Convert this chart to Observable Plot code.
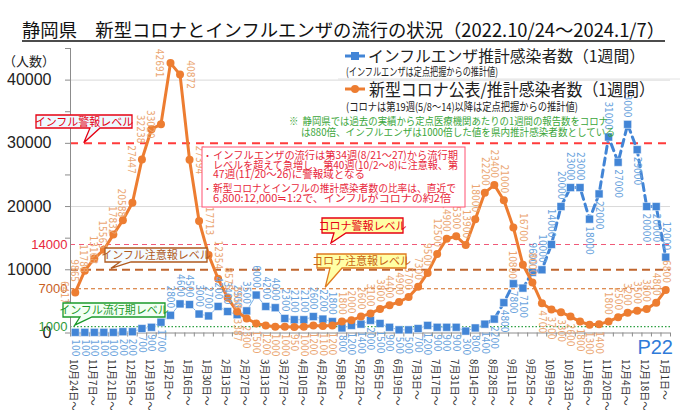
<!DOCTYPE html>
<html><head><meta charset="utf-8">
<script src="https://cdn.jsdelivr.net/npm/d3@7"></script>
<script src="https://cdn.jsdelivr.net/npm/@observablehq/plot@0.6"></script>
<style>body{margin:0;background:#fff} svg{display:block}</style>
</head><body><div id="chart"></div>
<script>
// ---- data ----
const xLabels = ["10月24日～","11月7日～","11月21日～","12月5日～","12月19日～","1月2日～","1月16日～","1月30日～","2月13日～","2月27日～","3月13日～","3月27日～","4月10日～","4月24日～","5月8日～","5月22日～","6月5日～","6月19日～","7月3日～","7月17日～","7月31日～","8月14日～","8月28日～","9月11日～","9月25日～","10月9日～","10月23日～","11月6日～","11月20日～","12月4日～","12月18日～","1月1日～"];
const fluValues = [100,100,100,100,100,200,200,700,900,1700,2800,4600,4500,3000,2700,4200,3400,2900,3500,6000,4200,4000,2300,2100,2100,2600,2200,1800,800,1200,1400,2000,1500,900,500,500,700,1200,900,900,900,300,800,1400,2200,4800,7800,7100,9600,10000,14000,20000,23000,23000,18000,22000,31000,27000,33000,29000,20000,20000,12000];
const covidValues = [6417,9865,11788,13168,15563,17832,20588,27447,32238,33020,42691,40872,27394,17713,12354,8575,5558,3387,2300,1500,1200,1000,1000,950,1000,1200,1100,1200,1800,2000,2600,3100,3800,4400,4900,5700,7300,9500,12500,14900,15300,13900,18000,22200,23400,21000,16700,10800,8000,4700,3700,3300,2600,1800,1300,1400,1800,2500,3200,3500,3800,4800,6800];
const yTickValues = [0,10000,20000,30000,40000];
const gridValues = [20000,40000];
const fluAlarm = 30000, fluWarning = 10000, fluEpidemic = 1000, covidAlarm = 14000, covidWarning = 7000;
const titleText = "静岡県　新型コロナとインフルエンザの流行の状況（2022.10/24～2024.1/7）";

// ---- build tables ----
const flu = fluValues.map((v, i) => ({week: i, value: v}));
const covid = covidValues.map((v, i) => ({week: i, value: v}));
const lastWeek = fluValues.length - 1;
const fluEarly = flu.filter(d => d.week <= 43);
const fluLate = flu.filter(d => d.week >= 43);

function covidPos(i){ if(i<=10) return "left"; if(i<=16) return "right"; if(i<=27) return "below"; if(i<=45) return "above"; if(i===46) return "right"; if(i===47) return "left"; if(i===48) return "above"; if(i<=55) return "below"; return "above"; }
function fluPos(i){ if(i<=9) return "below"; if(i<=27) return "above"; if(i<=47) return "below"; if(i<=53) return "above"; if(i===56||i===58||i===62) return "above"; return "below"; }
const placements = {
  left:  {textAnchor:"middle", dx:-11, dy:0},
  right: {textAnchor:"middle", dx:10, dy:0},
  above: {textAnchor:"end", dx:0, dy:-7},
  below: {textAnchor:"start", dx:0, dy:7}
};
const LBLFONT = "'Liberation Sans Narrow','DejaVu Sans Condensed',sans-serif";
function labelMarks(data, posFn, color){
  return Object.entries(placements).map(([k, p]) => Plot.text(data.filter(d => posFn(d.week) === k), {
    x: "week", y: "value", text: d => String(d.value), rotate: 90,
    textAnchor: p.textAnchor, dx: p.dx, dy: p.dy, fill: color, fontSize: 10, fontFamily: LBLFONT
  }));
}
const BLUE = "#4285D6", ORANGE = "#ED7D31";
const NUMFONT = "'Liberation Sans',Arial,sans-serif";

const chart = Plot.plot({
  width: 680, height: 410,
  marginLeft: 70, marginRight: 10, marginTop: 48, marginBottom: 77.5,
  x: {domain: [-0.5, lastWeek + 0.5]},
  y: {domain: [0, 45000]},
  style: {background: "white", fontFamily: "'Noto Sans CJK JP',sans-serif", overflow: "visible"},
  marks: [
    Plot.ruleY(gridValues, {stroke: "#d9d9d9", strokeWidth: 1}),
    Plot.ruleY([fluEpidemic], {stroke: "#2EA043", strokeWidth: 1.3, strokeDasharray: "1.5,2"}),
    Plot.ruleY([covidWarning], {stroke: "#D2691E", strokeWidth: 1.2, strokeDasharray: "4,3"}),
    Plot.ruleY([fluWarning], {stroke: "#C0652E", strokeWidth: 2, strokeDasharray: "8,5"}),
    Plot.ruleY([covidAlarm], {stroke: "#F05A78", strokeWidth: 1.2, strokeDasharray: "5,4"}),
    Plot.ruleY([fluAlarm], {stroke: "#FF3B3B", strokeWidth: 2, strokeDasharray: "8,6"}),
    Plot.ruleX([-0.5], {stroke: "#8c8c8c"}),
    Plot.ruleY([0], {stroke: "#8c8c8c"}),
    Plot.axisY(d3.range(0, 45001, 5000), {tickSize: 5, tickFormat: () => "", label: null, stroke: "#8c8c8c"}),
    Plot.axisY(yTickValues, {tickSize: 0, tickPadding: 19, fontSize: 16, fontFamily: NUMFONT, fill: "#222", tickFormat: d3.format("d"), label: null}),
    Plot.axisY([covidAlarm], {tickSize: 0, tickPadding: 3, fontSize: 13, fontFamily: NUMFONT, fill: "#E8283C", tickFormat: d3.format("d"), label: null}),
    Plot.axisY([covidWarning], {tickSize: 0, tickPadding: 3, fontSize: 13, fontFamily: NUMFONT, fill: "#C8601E", tickFormat: d3.format("d"), label: null}),
    Plot.axisY([fluEpidemic], {tickSize: 0, tickPadding: 3, fontSize: 13, fontFamily: NUMFONT, fill: "#2E9A3A", tickFormat: d3.format("d"), label: null}),
    Plot.axisX(d3.range(-0.5, lastWeek + 1, 1), {tickSize: 4, tickFormat: () => "", label: null, stroke: "#8c8c8c"}),
    Plot.axisX(xLabels.map((_, k) => k * 2), {tickSize: 0, tickPadding: 22, dy: 4, dx: -2, tickRotate: 90, fontSize: 10, fill: "#333", tickFormat: d => xLabels[d / 2], label: null}),
    Plot.line(fluEarly, {x: "week", y: "value", stroke: "#7FB0E6", strokeWidth: 1}),
    Plot.line(fluLate, {x: "week", y: "value", stroke: BLUE, strokeWidth: 3, strokeDasharray: "7,5"}),
    Plot.dot(flu, {x: "week", y: "value", symbol: "square", r: 4.5, fill: BLUE, stroke: "#ffffff", strokeWidth: 0.5}),
    Plot.line(covid, {x: "week", y: "value", stroke: ORANGE, strokeWidth: 3}),
    Plot.dot(covid, {x: "week", y: "value", r: 4, fill: ORANGE}),
    ...labelMarks(flu, fluPos, "#6AA3DD"),
    ...labelMarks(covid, covidPos, "#EBA672")
  ]
});
document.getElementById("chart").appendChild(chart);

// ---- annotations ----
const sx = chart.scale("x"), sy = chart.scale("y");
const X = v => sx.apply ? sx.apply(v) : sx.range[0] + (v - sx.domain[0]) / (sx.domain[1] - sx.domain[0]) * (sx.range[1] - sx.range[0]);
const Y = v => sy.apply ? sy.apply(v) : sy.range[0] + (v - sy.domain[0]) / (sy.domain[1] - sy.domain[0]) * (sy.range[1] - sy.range[0]);
const JP = "'Noto Sans CJK JP',sans-serif";
const svg = d3.select(chart);
const g = svg.append("g").attr("font-family", JP).attr("text-anchor", "start");

// title
g.append("text").attr("x", 22).attr("y", 37).attr("font-size", 18).attr("fill", "#111")
  .attr("textLength", 643).attr("lengthAdjust", "spacingAndGlyphs").text(titleText);
g.append("line").attr("x1", 22).attr("x2", 665).attr("y1", 41).attr("y2", 41).attr("stroke", "#111").attr("stroke-width", 1.3);

// y unit
g.append("text").attr("x", 3).attr("y", 66).attr("font-size", 13).attr("fill", "#222").text("（人数）");

// legend
g.append("line").attr("x1", 338).attr("x2", 680).attr("y1", 79).attr("y2", 79).attr("stroke", "#e2e2e2");
g.append("line").attr("x1", 345).attr("x2", 365).attr("y1", 56).attr("y2", 56).attr("stroke", BLUE).attr("stroke-width", 3);
g.append("rect").attr("x", 351).attr("y", 52).attr("width", 8).attr("height", 8).attr("fill", BLUE);
g.append("text").attr("x", 368).attr("y", 62).attr("font-size", 16).attr("fill", "#222").attr("textLength", 277).attr("lengthAdjust", "spacingAndGlyphs").text("インフルエンザ推計感染者数（1週間）");
g.append("text").attr("x", 346).attr("y", 75.5).attr("font-size", 11).attr("fill", "#222").attr("textLength", 152).attr("lengthAdjust", "spacingAndGlyphs").text("(インフルエンザは定点把握からの推計値)");
g.append("line").attr("x1", 345).attr("x2", 365).attr("y1", 89).attr("y2", 89).attr("stroke", ORANGE).attr("stroke-width", 3);
g.append("circle").attr("cx", 355).attr("cy", 89).attr("r", 4).attr("fill", ORANGE);
g.append("text").attr("x", 369).attr("y", 96).attr("font-size", 17).attr("fill", "#222").attr("textLength", 286).attr("lengthAdjust", "spacingAndGlyphs").text("新型コロナ公表/推計感染者数（1週間）");
g.append("text").attr("x", 346).attr("y", 110.5).attr("font-size", 11).attr("fill", "#222").attr("textLength", 232).attr("lengthAdjust", "spacingAndGlyphs").text("(コロナは第19週(5/8～14)以降は定点把握からの推計値)");

// green note
g.append("text").attr("x", 289).attr("y", 125).attr("font-size", 9.8).attr("fill", "#3AA63A").attr("textLength", 319).attr("lengthAdjust", "spacingAndGlyphs").text("※  静岡県では過去の実績から定点医療機関あたりの1週間の報告数をコロナ");
g.append("text").attr("x", 301).attr("y", 136).attr("font-size", 9.8).attr("fill", "#3AA63A").attr("textLength", 314).attr("lengthAdjust", "spacingAndGlyphs").text("は880倍、インフルエンザは1000倍した値を県内推計感染者数としている");

// red info box
g.append("rect").attr("x", 202).attr("y", 147).attr("width", 263).attr("height", 60).attr("fill", "#fff").attr("stroke", "#FF5070").attr("stroke-width", 1);
const boxLines = [
  {b: true, t: "インフルエンザの流行は第34週(8/21～27)から流行期", y: 159, w: 245},
  {b: false, t: "レベルを超えて急増し、第40週(10/2～8)に注意報、第", y: 168.5, w: 245},
  {b: false, t: "47週(11/20～26)に警報域となる", y: 178, w: 0},
  {b: true, t: "新型コロナとインフルの推計感染者数の比率は、直近で", y: 192, w: 243},
  {b: false, t: "6,800:12,000≒1:2で、インフルがコロナの約2倍", y: 201.5, w: 238}
];
boxLines.forEach(l => {
  if (l.b) g.append("text").attr("x", 203).attr("y", l.y).attr("font-size", 9).attr("fill", "#E8283C").text("・");
  const t = g.append("text").attr("x", 213).attr("y", l.y).attr("font-size", 10.5).attr("fill", "#E8283C").text(l.t);
  if (l.w) t.attr("textLength", l.w).attr("lengthAdjust", "spacingAndGlyphs");
});

// callouts
function callout(x0, y0, w, h, b1, b2, tipX, tipY, stroke, fill, color, label){
  const y1 = y0 + h;
  g.append("path").attr("d", `M${x0},${y0}H${x0 + w}V${y1}H${b2}L${tipX},${tipY}L${b1},${y1}H${x0}Z`)
    .attr("fill", fill).attr("stroke", stroke).attr("stroke-width", 1.3);
  g.append("text").attr("x", x0 + w / 2).attr("y", y0 + h / 2 + 4).attr("text-anchor", "middle")
    .attr("font-size", 11).attr("fill", color).text(label);
}
callout(36, 115, 96, 13, 90, 100, X(0.95), Y(fluAlarm), "#E60012", "#EEF9FF", "#E60012", "インフル警報レベル");
callout(105, 248, 102, 14, 120, 131, X(3.8), Y(fluWarning) - 1, "#B05A1E", "#F4FBFF", "#B05A1E", "インフル注意報レベル");
callout(63, 303, 102, 14, 80, 92, X(0), Y(fluEpidemic) - 1, "#1A9A2A", "#F2FFF4", "#1A9A2A", "インフル流行期レベル");
callout(322, 218, 81, 15, 334, 346, X(26.9), Y(covidAlarm) - 1, "#E60012", "#FFFFA6", "#E60012", "コロナ警報レベル");
callout(317, 254, 89, 14, 330, 342, X(26.3), Y(covidWarning) - 1, "#E07B20", "#FFFFA6", "#C86414", "コロナ注意報レベル");

// page number
g.append("text").attr("x", 673).attr("y", 354).attr("text-anchor", "end").attr("font-size", 20).attr("font-family", NUMFONT).attr("fill", "#2F7BD9").text("P22");
</script>
</body></html>
